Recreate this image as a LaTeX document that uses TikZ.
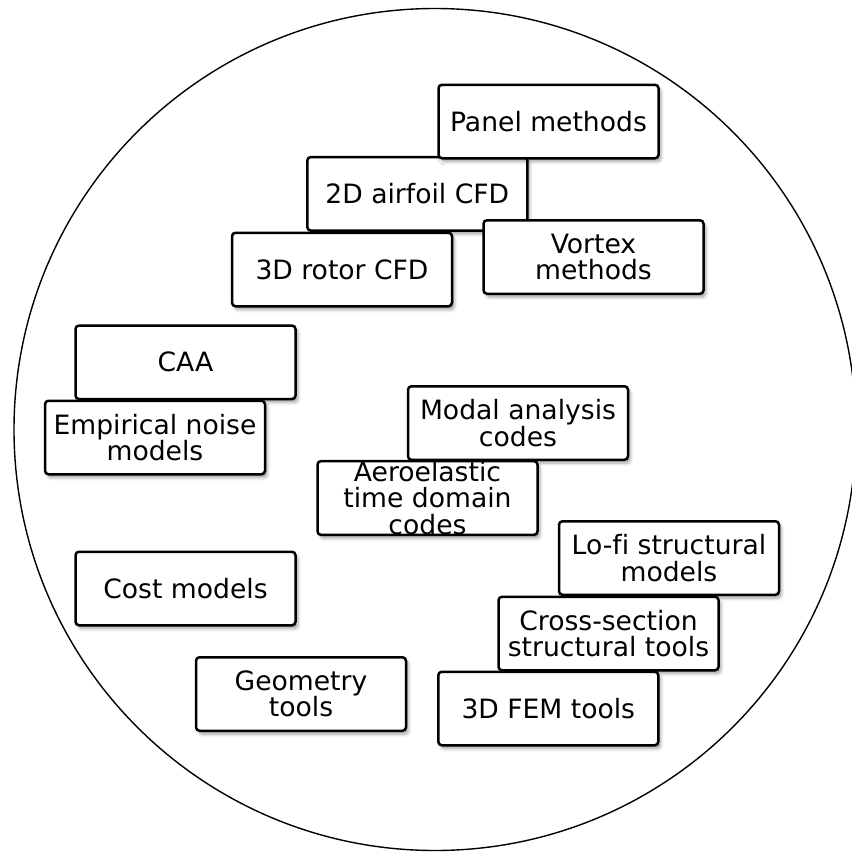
\documentclass[tikz,border=0pt]{standalone}
\usepackage{fontspec}
\setmainfont{DejaVu Sans}[Ligatures=CommonOff]
\usetikzlibrary{shadows.blur}
\begin{document}
\begin{tikzpicture}[x=1pt,y=-1pt,
  tool/.style={draw=black, line width=2.5pt, rounded corners=3.5pt, fill=white,
    minimum width=220pt, minimum height=73.5pt, inner sep=0pt, align=center,
    font=\fontsize{26.6}{26.6}\selectfont,
    blur shadow={shadow xshift=2.5pt, shadow yshift=-3.5pt,
      shadow blur radius=3pt, shadow opacity=35}},
  ring/.style={draw=black, line width=1.4pt, circle, inner sep=0pt,
    minimum size=842pt}]
\useasboundingbox (0,0) rectangle (852,855);
\begin{scope}
  \clip (0,0) rectangle (852,855);
  \node[ring] (pool) at (435,429.5) {};
\end{scope}

% aerodynamics
\node[tool] (airfoil) at (417.3,193.8) {2D airfoil CFD};
\node[tool] (panel)   at (548.5,121.5) {Panel methods};
\node[tool] (rotor)   at (342,269.5)   {3D rotor CFD};
\node[tool] (vortex)  at (593.5,257)   {Vortex\\methods};

% acoustics
\node[tool] (caa)       at (185.5,362.3) {CAA};
\node[tool] (empirical) at (155,437.5)   {Empirical noise\\models};

% aeroelasticity
\node[tool] (modal) at (518,423)   {Modal analysis\\codes};
\node[tool] (aero)  at (427.5,498) {Aeroelastic\\time domain\\codes};

% structures
\node[tool] (lofi)  at (669,558)     {Lo-fi structural\\models};
\node[tool] (cross) at (608.5,633.5) {Cross-section\\structural tools};
\node[tool] (fem)   at (548.3,708.5) {3D FEM tools};

% cost and geometry
\node[tool] (cost) at (185.5,588.5) {Cost models};
\node[tool, minimum width=210pt] (geom) at (301,694) {Geometry\\tools};
\end{tikzpicture}
\end{document}
